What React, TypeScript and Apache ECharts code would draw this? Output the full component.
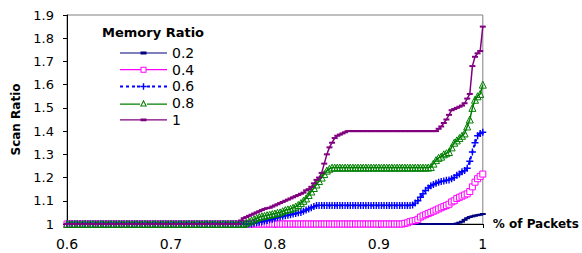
import React, { useEffect, useRef } from "react";
import * as echarts from "echarts";

const xs = [
  0.6, 0.6025, 0.605, 0.6075, 0.61, 0.6125, 0.615, 0.6175, 0.62, 0.6225,
  0.625, 0.6275, 0.63, 0.6325, 0.635, 0.6375, 0.64, 0.6425, 0.645, 0.6475,
  0.65, 0.6525, 0.655, 0.6575, 0.66, 0.6625, 0.665, 0.6675, 0.67, 0.6725,
  0.675, 0.6775, 0.68, 0.6825, 0.685, 0.6875, 0.69, 0.6925, 0.695, 0.6975,
  0.7, 0.7025, 0.705, 0.7075, 0.71, 0.7125, 0.715, 0.7175, 0.72, 0.7225,
  0.725, 0.7275, 0.73, 0.7325, 0.735, 0.7375, 0.74, 0.7425, 0.745, 0.7475,
  0.75, 0.7525, 0.755, 0.7575, 0.76, 0.7625, 0.765, 0.7675, 0.77, 0.7725,
  0.775, 0.7775, 0.78, 0.7825, 0.785, 0.7875, 0.79, 0.7925, 0.795, 0.7975,
  0.8, 0.8025, 0.805, 0.8075, 0.81, 0.8125, 0.815, 0.8175, 0.82, 0.8225,
  0.825, 0.8275, 0.83, 0.8325, 0.835, 0.8375, 0.84, 0.8425, 0.845, 0.8475,
  0.85, 0.8525, 0.855, 0.8575, 0.86, 0.8625, 0.865, 0.8675, 0.87, 0.8725,
  0.875, 0.8775, 0.88, 0.8825, 0.885, 0.8875, 0.89, 0.8925, 0.895, 0.8975,
  0.9, 0.9025, 0.905, 0.9075, 0.91, 0.9125, 0.915, 0.9175, 0.92, 0.9225,
  0.925, 0.9275, 0.93, 0.9325, 0.935, 0.9375, 0.94, 0.9425, 0.945, 0.9475,
  0.95, 0.9525, 0.955, 0.9575, 0.96, 0.9625, 0.965, 0.9675, 0.97, 0.9725,
  0.975, 0.9775, 0.98, 0.9825, 0.985, 0.9875, 0.99, 0.9925, 0.995, 0.9975,
  1,
];

const ratio02 = [
  1, 1, 1, 1, 1, 1, 1, 1, 1, 1,
  1, 1, 1, 1, 1, 1, 1, 1, 1, 1,
  1, 1, 1, 1, 1, 1, 1, 1, 1, 1,
  1, 1, 1, 1, 1, 1, 1, 1, 1, 1,
  1, 1, 1, 1, 1, 1, 1, 1, 1, 1,
  1, 1, 1, 1, 1, 1, 1, 1, 1, 1,
  1, 1, 1, 1, 1, 1, 1, 1, 1, 1,
  1, 1, 1, 1, 1, 1, 1, 1, 1, 1,
  1, 1, 1, 1, 1, 1, 1, 1, 1, 1,
  1, 1, 1, 1, 1, 1, 1, 1, 1, 1,
  1, 1, 1, 1, 1, 1, 1, 1, 1, 1,
  1, 1, 1, 1, 1, 1, 1, 1, 1, 1,
  1, 1, 1, 1, 1, 1, 1, 1, 1, 1,
  1, 1, 1, 1, 1, 1, 1, 1, 1, 1,
  1, 1, 1, 1, 1, 1, 1, 1, 1, 1,
  1.002, 1.006, 1.01, 1.018, 1.025, 1.03, 1.033, 1.036, 1.038, 1.04,
  1.043,
];

const ratio04 = [
  1, 1, 1, 1, 1, 1, 1, 1, 1, 1,
  1, 1, 1, 1, 1, 1, 1, 1, 1, 1,
  1, 1, 1, 1, 1, 1, 1, 1, 1, 1,
  1, 1, 1, 1, 1, 1, 1, 1, 1, 1,
  1, 1, 1, 1, 1, 1, 1, 1, 1, 1,
  1, 1, 1, 1, 1, 1, 1, 1, 1, 1,
  1, 1, 1, 1, 1, 1, 1, 1, 1, 1,
  1, 1, 1, 1, 1, 1, 1, 1, 1, 1,
  1, 1, 1, 1, 1, 1, 1, 1, 1, 1,
  1, 1, 1, 1, 1, 1, 1, 1, 1, 1,
  1, 1, 1, 1, 1, 1, 1, 1, 1, 1,
  1, 1, 1, 1, 1, 1, 1, 1, 1, 1,
  1, 1, 1, 1, 1, 1, 1, 1, 1, 1,
  1.003, 1.005, 1.01, 1.013, 1.015, 1.02, 1.03, 1.035, 1.04, 1.045,
  1.05, 1.055, 1.06, 1.065, 1.07, 1.075, 1.08, 1.085, 1.095, 1.1,
  1.11, 1.115, 1.12, 1.125, 1.13, 1.14, 1.16, 1.18, 1.195, 1.205,
  1.215,
];

const ratio06 = [
  1, 1, 1, 1, 1, 1, 1, 1, 1, 1,
  1, 1, 1, 1, 1, 1, 1, 1, 1, 1,
  1, 1, 1, 1, 1, 1, 1, 1, 1, 1,
  1, 1, 1, 1, 1, 1, 1, 1, 1, 1,
  1, 1, 1, 1, 1, 1, 1, 1, 1, 1,
  1, 1, 1, 1, 1, 1, 1, 1, 1, 1,
  1, 1, 1, 1, 1, 1, 1, 1, 1, 1,
  1, 1, 1.003, 1.005, 1.008, 1.01, 1.013, 1.015, 1.018, 1.02,
  1.025, 1.028, 1.03, 1.033, 1.035, 1.038, 1.04, 1.043, 1.045, 1.048,
  1.05, 1.055, 1.06, 1.065, 1.07, 1.075, 1.08, 1.08, 1.08, 1.08,
  1.08, 1.08, 1.08, 1.08, 1.08, 1.08, 1.08, 1.08, 1.08, 1.08,
  1.08, 1.08, 1.08, 1.08, 1.08, 1.08, 1.08, 1.08, 1.08, 1.08,
  1.08, 1.08, 1.08, 1.08, 1.08, 1.08, 1.08, 1.08, 1.08, 1.08,
  1.08, 1.08, 1.08, 1.082, 1.09, 1.1, 1.115, 1.13, 1.145, 1.155,
  1.165, 1.17, 1.175, 1.18, 1.183, 1.185, 1.188, 1.19, 1.195, 1.2,
  1.21, 1.215, 1.225, 1.23, 1.24, 1.27, 1.31, 1.35, 1.38, 1.39,
  1.395,
];

const ratio08 = [
  1, 1, 1, 1, 1, 1, 1, 1, 1, 1,
  1, 1, 1, 1, 1, 1, 1, 1, 1, 1,
  1, 1, 1, 1, 1, 1, 1, 1, 1, 1,
  1, 1, 1, 1, 1, 1, 1, 1, 1, 1,
  1, 1, 1, 1, 1, 1, 1, 1, 1, 1,
  1, 1, 1, 1, 1, 1, 1, 1, 1, 1,
  1, 1, 1, 1, 1, 1, 1, 1, 1, 1.005,
  1.01, 1.015, 1.02, 1.025, 1.03, 1.033, 1.035, 1.038, 1.04, 1.043,
  1.045, 1.048, 1.05, 1.055, 1.06, 1.063, 1.065, 1.07, 1.075, 1.082,
  1.09, 1.1, 1.11, 1.125, 1.14, 1.155, 1.17, 1.185, 1.2, 1.215,
  1.23, 1.238, 1.243, 1.243, 1.243, 1.243, 1.243, 1.243, 1.243, 1.243,
  1.243, 1.243, 1.243, 1.243, 1.243, 1.243, 1.243, 1.243, 1.243, 1.243,
  1.243, 1.243, 1.243, 1.243, 1.243, 1.243, 1.243, 1.243, 1.243, 1.243,
  1.243, 1.243, 1.243, 1.243, 1.243, 1.243, 1.243, 1.243, 1.243, 1.243,
  1.245, 1.26, 1.275, 1.285, 1.29, 1.3, 1.305, 1.31, 1.33, 1.35,
  1.36, 1.37, 1.38, 1.39, 1.42, 1.45, 1.5, 1.535, 1.55, 1.56,
  1.6,
];

const ratio1 = [
  1, 1, 1, 1, 1, 1, 1, 1, 1, 1,
  1, 1, 1, 1, 1, 1, 1, 1, 1, 1,
  1, 1, 1, 1, 1, 1, 1, 1, 1, 1,
  1, 1, 1, 1, 1, 1, 1, 1, 1, 1,
  1, 1, 1, 1, 1, 1, 1, 1, 1, 1,
  1, 1, 1, 1, 1, 1, 1, 1, 1, 1,
  1, 1, 1, 1, 1, 1, 1, 1.015, 1.025, 1.03,
  1.035, 1.04, 1.045, 1.05, 1.055, 1.06, 1.065, 1.068, 1.07, 1.075,
  1.08, 1.085, 1.09, 1.095, 1.1, 1.105, 1.11, 1.115, 1.12, 1.125,
  1.13, 1.135, 1.145, 1.15, 1.16, 1.175, 1.19, 1.2, 1.22, 1.26,
  1.3, 1.33, 1.35, 1.37, 1.38, 1.385, 1.39, 1.395, 1.4, 1.4,
  1.4, 1.4, 1.4, 1.4, 1.4, 1.4, 1.4, 1.4, 1.4, 1.4,
  1.4, 1.4, 1.4, 1.4, 1.4, 1.4, 1.4, 1.4, 1.4, 1.4,
  1.4, 1.4, 1.4, 1.4, 1.4, 1.4, 1.4, 1.4, 1.4, 1.4,
  1.4, 1.4, 1.4, 1.41, 1.42, 1.435, 1.45, 1.47, 1.49, 1.495,
  1.5, 1.505, 1.51, 1.52, 1.54, 1.56, 1.68, 1.72, 1.735, 1.745,
  1.85,
];

const seriesNames = ["0.2", "0.4", "0.6", "0.8", "1"];
const xTicks = ["0.6", "0.7", "0.8", "0.9", "1"];

const FONT = "'DejaVu Sans', Verdana, sans-serif";
const PLUS = "path://M2,0H3V2H5V3H3V5H2V3H0V2H2Z";

const ICON_DASH = "path://M0,5H47V6.2H0Z M20.5,4.2H26.5V7H20.5Z";
const ICON_SQUARE =
  "path://M0,5H20.5V6.2H0Z M26.5,5H47V6.2H26.5Z M20.5,2.6H26.5V8.6H20.5Z M21.5,3.6V7.6H25.5V3.6Z";
const ICON_PLUS =
  "path://M0,4.6H3V6.6H0Z M6,4.6H9V6.6H6Z M12,4.6H15V6.6H12Z M17,4.6H20V6.6H17Z M27,4.6H30V6.6H27Z M32,4.6H35V6.6H32Z M38,4.6H41V6.6H38Z M44,4.6H47V6.6H44Z M22.8,2.3H24.2V8.8H22.8Z M20.3,4.9H26.7V6.3H20.3Z";
const ICON_TRI =
  "path://M0,5.6H20V6.8H0Z M27,5.6H47V6.8H27Z M23.5,1.8L27,8.6L20,8.6Z M23.5,4L21.7,7.6L25.3,7.6Z";

function pairs(vals: number[]) {
  return xs.map((x, i) => [x, vals[i]]);
}

function legendItem(name: string, icon: string, color: string) {
  return {
    name,
    icon,
    itemStyle: { color, borderWidth: 0, borderColor: "transparent", opacity: 1 },
  };
}

export default function App() {
  const ref = useRef<HTMLDivElement>(null);
  useEffect(() => {
    if (!ref.current) return;
    const chart = echarts.init(ref.current, null, { renderer: "svg" });
    chart.setOption({
      animation: false,
      backgroundColor: "#ffffff",
      textStyle: { fontFamily: FONT },
      title: {
        text: "Memory Ratio",
        left: 102,
        top: 26,
        padding: 0,
        textStyle: { fontSize: 13, fontWeight: "bold", color: "#000", fontFamily: FONT },
      },
      legend: {
        orient: "vertical",
        left: 120,
        top: 46,
        padding: 0,
        itemWidth: 47,
        itemHeight: 14,
        itemGap: 2.7,
        symbolKeepAspect: true,
        textStyle: { fontSize: 14, color: "#000", fontFamily: FONT },
        data: [
          legendItem(seriesNames[0], ICON_DASH, "#000080"),
          legendItem(seriesNames[1], ICON_SQUARE, "#FF00FF"),
          legendItem(seriesNames[2], ICON_PLUS, "#0000FF"),
          legendItem(seriesNames[3], ICON_TRI, "#008000"),
          legendItem(seriesNames[4], ICON_DASH, "#800080"),
        ],
      },
      grid: {
        left: 67,
        right: 98,
        top: 15,
        bottom: 29,
        show: true,
        borderColor: "#808080",
        borderWidth: 1,
        backgroundColor: "transparent",
      },
      xAxis: {
        type: "value",
        min: 0.6,
        max: 1,
        interval: 0.1,
        name: "% of Packets",
        nameLocation: "end",
        nameGap: 10,
        nameTextStyle: {
          fontSize: 12,
          fontWeight: "bold",
          color: "#000",
          fontFamily: FONT,
          verticalAlign: "middle",
          padding: [6, 0, 0, 0],
        },
        axisLine: { show: true, lineStyle: { color: "#000", width: 1 } },
        axisTick: { show: true, inside: false, length: 4, lineStyle: { color: "#000" } },
        axisLabel: {
          fontSize: 14,
          color: "#000",
          margin: 13,
          fontFamily: FONT,
          formatter: (v: number) => {
            const s = v.toFixed(1).replace(/\.0$/, "");
            return xTicks.includes(s) ? s : "";
          },
        },
        splitLine: { show: false },
      },
      yAxis: {
        type: "value",
        min: 1,
        max: 1.9,
        interval: 0.1,
        name: "Scan Ratio",
        nameLocation: "middle",
        nameGap: 43,
        nameRotate: 90,
        nameTextStyle: { fontSize: 12, fontWeight: "bold", color: "#000", fontFamily: FONT },
        axisLine: { show: true, lineStyle: { color: "#000", width: 1 } },
        axisTick: { show: true, inside: false, length: 4, lineStyle: { color: "#000" } },
        axisLabel: { fontSize: 13, color: "#000", margin: 13, fontFamily: FONT },
        splitLine: { show: false },
      },
      series: [
        {
          name: seriesNames[0],
          type: "line",
          data: pairs(ratio02),
          symbol: "rect",
          symbolSize: [6, 2],
          lineStyle: { color: "#000080", width: 1.5 },
          itemStyle: { color: "#000080" },
        },
        {
          name: seriesNames[1],
          type: "line",
          data: pairs(ratio04),
          symbol: "rect",
          symbolSize: 6,
          lineStyle: { color: "#FF00FF", width: 1.5 },
          itemStyle: { color: "#ffffff", borderColor: "#FF00FF", borderWidth: 1 },
        },
        {
          name: seriesNames[2],
          type: "line",
          data: pairs(ratio06),
          symbol: PLUS,
          symbolSize: 7,
          lineStyle: { color: "#0000FF", width: 2, type: [3, 3] },
          itemStyle: { color: "#0000FF" },
        },
        {
          name: seriesNames[3],
          type: "line",
          data: pairs(ratio08),
          symbol: "triangle",
          symbolSize: 7,
          lineStyle: { color: "#008000", width: 1.5 },
          itemStyle: { color: "rgba(255,255,255,0)", borderColor: "#008000", borderWidth: 1 },
        },
        {
          name: seriesNames[4],
          type: "line",
          data: pairs(ratio1),
          symbol: "rect",
          symbolSize: [6, 2],
          lineStyle: { color: "#800080", width: 1.5 },
          itemStyle: { color: "#800080" },
        },
      ],
    });
    return () => chart.dispose();
  }, []);
  return <div ref={ref} style={{ width: 582, height: 253, position: "absolute", left: 0, top: 0 }} />;
}
